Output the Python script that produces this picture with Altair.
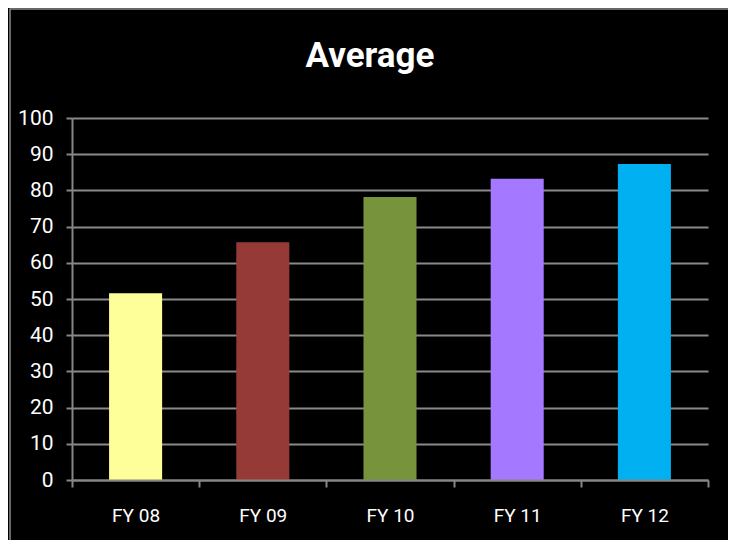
import altair as alt
import pandas as pd

categories = ["FY 08", "FY 09", "FY 10", "FY 11", "FY 12"]
values = [51.6, 65.7, 78.2, 83.2, 87.3]
colors = ["#FFFF99", "#963A37", "#77933C", "#A478FF", "#00B0F0"]

df = pd.DataFrame({"cat": categories, "val": values})

FONT = "Roboto"

frame = alt.Chart(df.head(1)).mark_rect(
    fill=None, stroke="#8a8a8a", strokeWidth=1.5
).encode(
    x=alt.value(-62), x2=alt.value(658), y=alt.value(-109), y2=alt.value(440)
)

bars = alt.Chart(df).mark_bar(y2Offset=2, width=alt.RelativeBandSize(0.417)).encode(
    x=alt.X("cat:N", sort=categories,
            scale=alt.Scale(paddingInner=0, paddingOuter=0),
            axis=alt.Axis(title=None, labelAngle=0, labelFont=FONT, labelFontSize=19,
                          labelColor="white", labelPadding=19, domainColor="#868686",
                          domainWidth=2, tickColor="#868686", tickWidth=2, tickSize=7,
                          tickBand="extent", zindex=1)),
    y=alt.Y("val:Q", scale=alt.Scale(domain=[0, 100], nice=False),
            axis=alt.Axis(title=None, values=list(range(0, 101, 10)), labelFont=FONT,
                          labelFontSize=21, labelColor="white", labelPadding=13,
                          domainColor="#868686", domainWidth=2, tickColor="#868686",
                          tickWidth=2, tickSize=6, gridColor="#8a8a8a", gridWidth=2,
                          zindex=0)),
    color=alt.Color("cat:N", scale=alt.Scale(domain=categories, range=colors), legend=None),
)

chart = alt.layer(bars, frame).properties(
    width=636, height=362,
    title=alt.TitleParams("Average", font=FONT, fontSize=35, fontWeight="bold",
                          color="white", anchor="middle", dx=-20, dy=99, offset=33),
    autosize=alt.AutoSizeParams(type="none"),
    padding={"left": 64, "top": 110, "right": 20, "bottom": 60},
    background="black",
).configure_view(stroke=None)

chart.save("out.html", embed_options={"renderer": "svg", "actions": False})
